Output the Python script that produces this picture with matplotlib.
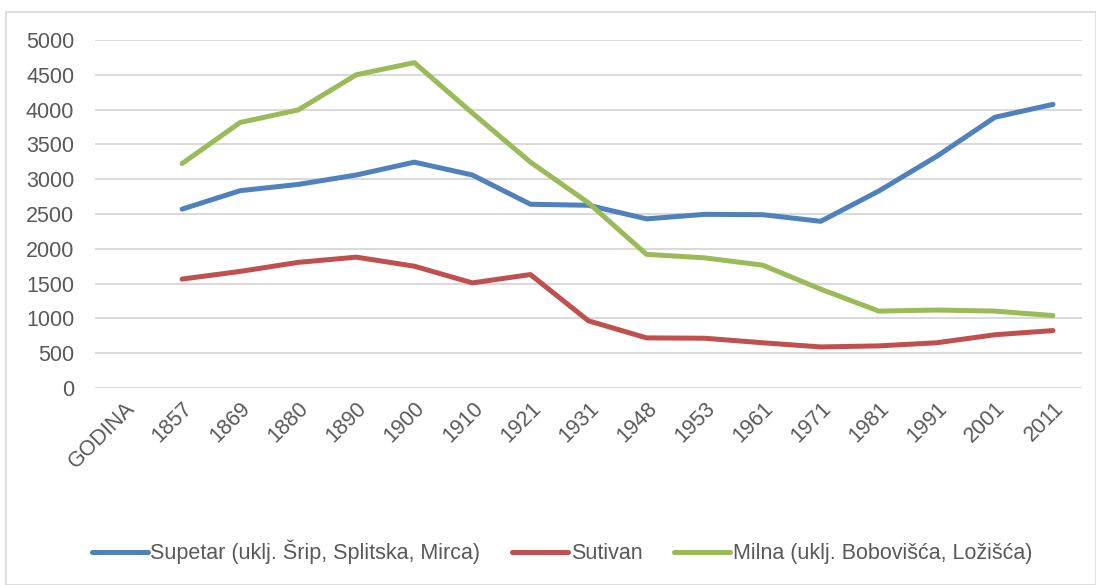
import matplotlib
matplotlib.use("Agg")
import matplotlib.pyplot as plt
from matplotlib.patches import Rectangle

plt.rcParams['font.family'] = ['Liberation Sans', 'DejaVu Sans']

godine = ["GODINA", "1857", "1869", "1880", "1890", "1900", "1910", "1921", "1931",
          "1948", "1953", "1961", "1971", "1981", "1991", "2001", "2011"]
# GODINA column has no values
supetar = [None, 2570, 2835, 2925, 3060, 3245, 3060, 2640, 2625, 2430, 2495, 2490, 2395, 2830, 3330, 3890, 4075]
sutivan = [None, 1565, 1675, 1805, 1880, 1750, 1510, 1630, 965, 720, 715, 650, 590, 605, 650, 765, 825]
milna = [None, 3225, 3815, 3995, 4500, 4675, 3950, 3245, 2660, 1920, 1870, 1765, 1420, 1105, 1120, 1105, 1040]

serije = [
    ("Supetar (uklj. Šrip, Splitska, Mirca)", supetar, "#4f81bd"),
    ("Sutivan", sutivan, "#c0504d"),
    ("Milna (uklj. Bobovišća, Ložišća)", milna, "#9bbb59"),
]

fig = plt.figure(figsize=(10.96, 5.85), dpi=100)
W, H = 1096, 585
ax = fig.add_axes([95 / W, 1 - 388 / H, (1082 - 95) / W, (388 - 40) / H])

x = list(range(len(godine)))
for naziv, vals, boja in serije:
    xs = [i for i, v in zip(x, vals) if v is not None]
    ys = [v for v in vals if v is not None]
    ax.plot(xs, ys, color=boja, lw=3.6, solid_capstyle='round', solid_joinstyle='round', label=naziv)

ax.set_xlim(-0.5, len(godine) - 0.5)
ax.set_ylim(0, 5000)
ax.set_yticks(range(0, 5001, 500))
ax.grid(axis='y', color='#d9d9d9', lw=1.4)
ax.set_axisbelow(True)
for s in ax.spines.values():
    s.set_visible(False)
ax.tick_params(axis='both', length=0, labelsize=15.5, colors='#595959')
ax.tick_params(axis='y', pad=15)
ax.tick_params(axis='x', pad=7)
ax.set_xticks(x)
ax.set_xticklabels(godine, rotation=45, ha='right', va='top', rotation_mode='anchor')
for lab in ax.get_xticklabels():
    lab.set_color('#595959')

fig.legend(loc='center', bbox_to_anchor=(562 / W, 1 - 552 / H), ncol=3, frameon=False,
           fontsize=15.5, handlelength=2.6, handletextpad=0.1, columnspacing=1.5,
           labelcolor='#595959')

fig.patches.append(Rectangle((6 / W, 0), (W - 6) / W, 1 - 12 / H, transform=fig.transFigure,
                             fill=False, edgecolor='#d9d9d9', lw=1.2))

fig.savefig("out.png", dpi=100)
